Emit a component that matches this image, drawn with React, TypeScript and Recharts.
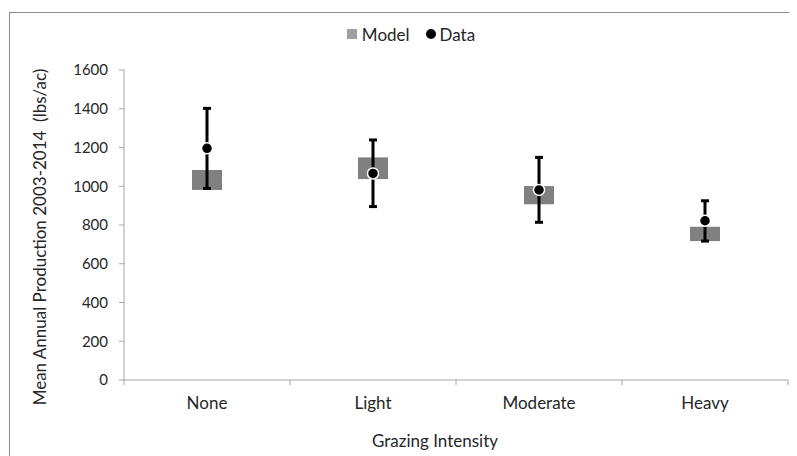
import React from 'react';
import {
  ComposedChart,
  Bar,
  Scatter,
  ErrorBar,
  XAxis,
  YAxis,
  Legend,
  Label,
} from 'recharts';

const categories = ['None', 'Light', 'Moderate', 'Heavy'];
const modelLow = [981, 1037, 907, 717];
const modelHigh = [1084, 1149, 1001, 791];
const dataMean = [1196, 1066, 981, 822];
const dataLow = [989, 895, 814, 717];
const dataHigh = [1402, 1239, 1149, 925];
const yTicks = [0, 200, 400, 600, 800, 1000, 1200, 1400, 1600];

const rows = categories.map((c, i) => ({
  name: c,
  model: [modelLow[i], modelHigh[i]],
  data: dataMean[i],
  err: [dataMean[i] - dataLow[i], dataHigh[i] - dataMean[i]],
}));

const FONT = 'Lato, "Open Sans", sans-serif';
const TEXT = '#262626';
const AXIS = '#a6a6a6';
const W = 797;
const H = 456;
const M = { top: 50, right: 9, left: 20, bottom: 10 };
const Y_W = 104;
const PLOT_W = W - M.left - M.right - Y_W;
const TICK_SIZE = 5;
const TICK_MARGIN = 13;

const XTick = (props: any) => {
  const { x, y, payload, index } = props;
  const band = PLOT_W / categories.length;
  const axisY = y - TICK_SIZE - TICK_MARGIN;
  return (
    <g>
      <line x1={x - band / 2} x2={x - band / 2} y1={axisY} y2={axisY + TICK_SIZE} stroke={AXIS} />
      {index === categories.length - 1 && (
        <line x1={x + band / 2} x2={x + band / 2} y1={axisY} y2={axisY + TICK_SIZE} stroke={AXIS} />
      )}
      <text x={x} y={y + 11} textAnchor="middle" fill={TEXT} fontSize={17} fontFamily={FONT}>
        {payload.value}
      </text>
    </g>
  );
};

const Dot = (props: any) => {
  const { cx, cy } = props;
  if (cx == null || cy == null) return null;
  return <circle cx={cx} cy={cy} r={5.5} fill="#000" stroke="#fff" strokeWidth={1.5} />;
};

const LegendContent = () => (
  <div
    style={{
      display: 'flex',
      justifyContent: 'center',
      alignItems: 'center',
      fontFamily: FONT,
      fontSize: 17,
      color: TEXT,
      height: 20,
    }}
  >
    <span style={{ display: 'inline-block', width: 10, height: 10, background: '#a0a0a0', marginRight: 5 }} />
    <span style={{ marginRight: 16 }}>Model</span>
    <span style={{ display: 'inline-block', width: 10, height: 10, borderRadius: 5, background: '#000', marginRight: 4 }} />
    <span>Data</span>
  </div>
);

const XLabel = (props: any) => {
  const vb = props.viewBox || {};
  return (
    <text
      x={vb.x + vb.width / 2 - 21}
      y={vb.y + vb.height + 1}
      textAnchor="middle"
      fill={TEXT}
      fontSize={17}
      fontFamily={FONT}
    >
      Grazing Intensity
    </text>
  );
};

const YLabel = (props: any) => {
  const vb = props.viewBox || {};
  const cx = vb.x + 26;
  const cy = vb.y + vb.height / 2 + 12;
  return (
    <text
      x={cx}
      y={cy}
      transform={`rotate(-90, ${cx}, ${cy})`}
      textAnchor="middle"
      fill={TEXT}
      fontSize={17}
      fontFamily={FONT}
      style={{ whiteSpace: 'pre' }}
    >
      {'Mean Annual Production 2003-2014  (lbs/ac)'}
    </text>
  );
};

export default function App() {
  return (
    <div style={{ position: 'relative', left: -8, top: -8, width: W, height: H, background: '#fff', overflow: 'hidden' }}>
      <div
        style={{
          position: 'absolute',
          left: 9,
          top: 12,
          width: 820,
          height: 480,
          border: '1px solid #8c8c8c',
          boxSizing: 'border-box',
        }}
      />
      <div style={{ position: 'absolute', left: 0, top: 0 }}>
        <ComposedChart width={W} height={H} data={rows} margin={M}>
          <Legend
            verticalAlign="top"
            content={<LegendContent />}
            wrapperStyle={{ left: 330, width: 162, top: 24 }}
          />
          <XAxis
            dataKey="name"
            height={66}
            stroke={AXIS}
            tickLine={false}
            tickSize={TICK_SIZE}
            tickMargin={TICK_MARGIN}
            tick={<XTick />}
            interval={0}
          >
            <Label content={<XLabel />} />
          </XAxis>
          <YAxis
            width={Y_W}
            domain={[0, 1600]}
            ticks={yTicks}
            stroke={AXIS}
            tickSize={TICK_SIZE}
            tickMargin={11}
            tick={{ fill: TEXT, fontSize: 15, fontFamily: FONT }}
          >
            <Label content={<YLabel />} />
          </YAxis>
          <Bar dataKey="model" name="Model" fill="#808080" barSize={30} isAnimationActive={false} />
          <Scatter dataKey="data" name="Data" fill="#000" shape={<Dot />} isAnimationActive={false}>
            <ErrorBar dataKey="err" direction="y" width={4} stroke="#000" strokeWidth={3} />
          </Scatter>
        </ComposedChart>
      </div>
    </div>
  );
}
